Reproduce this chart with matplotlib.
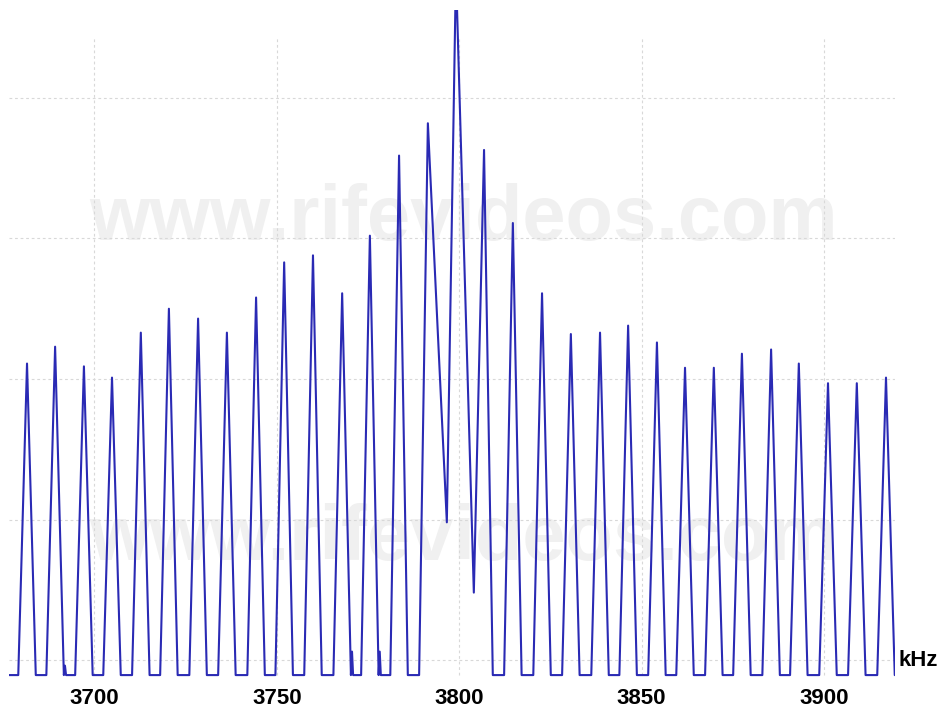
import matplotlib
matplotlib.use("Agg")
from matplotlib import pyplot as plt

# peak centres (kHz) and peak tops (dB)
peak_khz = [3681.5, 3689.2, 3697.1, 3704.8, 3712.7, 3720.4, 3728.4, 3736.3,
            3744.3, 3752.0, 3759.9, 3767.9, 3775.5, 3783.5, 3791.4, 3799.1,
            3806.8, 3814.7, 3822.7, 3830.6, 3838.6, 3846.3, 3854.2, 3861.9,
            3869.8, 3877.5, 3885.5, 3893.1, 3901.1, 3909.0, 3917.0]
peak_db = [-18.9, -17.7, -19.1, -19.9, -16.7, -15.0, -15.7, -16.7,
           -14.2, -11.7, -11.2, -13.9, -9.8, -4.1, -1.8, 9.0,
           -3.7, -8.9, -13.9, -16.8, -16.7, -16.2, -17.4, -19.2,
           -19.2, -18.2, -17.9, -18.9, -20.3, -20.3, -19.9]
floor_db = -41.07
half_width = 2.4   # kHz from peak top to its foot

# valleys near the carrier that stay above the floor: after peak i -> (kHz, dB)
valleys = {14: (3796.6, -30.2), 15: (3804.0, -35.2)}
# small spurs just after the foot of some peaks
spurs = {1: -40.4, 11: -39.4, 12: -39.4}

tick_khz = [3700, 3750, 3800, 3850, 3900]
grid_db = [0, -10, -20, -30, -40]

x_lo, x_hi = 3676.56, 3919.47
y_lo, y_hi = -41.42, 6.26

xs = [x_lo]
ys = [floor_db]
for i, (f, lv) in enumerate(zip(peak_khz, peak_db)):
    if (i - 1) not in valleys:
        xs.append(f - half_width)
        ys.append(floor_db)
    xs.append(f)
    ys.append(lv)
    if i in valleys:
        xs.append(valleys[i][0])
        ys.append(valleys[i][1])
    else:
        xs.append(f + half_width)
        ys.append(floor_db)
        if i in spurs:
            xs += [f + half_width + 0.3, f + half_width + 0.6]
            ys += [spurs[i], floor_db]
xs.append(x_hi)
ys.append(floor_db)

W, H = 940, 710
fig = plt.figure(figsize=(W / 100, H / 100), dpi=100)
fig.patch.set_facecolor("white")
ax = fig.add_axes([9 / W, (H - 680) / H, 886 / W, 670 / H])
ax.patch.set_alpha(0)

# watermark
for base_y in [240, 560]:
    ax.text(464 / W, 1 - base_y / H, "www.rifevideos.com", transform=fig.transFigure,
            ha="center", va="baseline", fontsize=56, fontweight="bold",
            family="Liberation Sans", color="#f0f0f0", zorder=0)

# grid
ax.hlines(grid_db, x_lo, x_hi, colors="#d8d8d8", linestyles=(0, (2.5, 2.5)),
          linewidth=0.8, zorder=1)
ax.vlines(tick_khz, floor_db, 4.27, colors="#d8d8d8", linestyles=(0, (2.5, 2.5)),
          linewidth=0.8, zorder=1)

ax.plot(xs, ys, color="#2a2ab4", linewidth=1.5, zorder=3, clip_on=True)

ax.set_xlim(x_lo, x_hi)
ax.set_ylim(y_lo, y_hi)
ax.set_xticks(tick_khz)
ax.set_xticklabels([str(t) for t in tick_khz], fontsize=16, fontweight="bold",
                   family="Liberation Sans")
ax.set_yticks([])
ax.tick_params(axis="x", length=0, pad=6)
for s in ax.spines.values():
    s.set_visible(False)

fig.text(899 / W, 1 - 661 / H, "kHz", ha="left", va="center", fontsize=16,
         fontweight="bold", family="Liberation Sans")

fig.savefig("out.png", dpi=100, facecolor="white")
